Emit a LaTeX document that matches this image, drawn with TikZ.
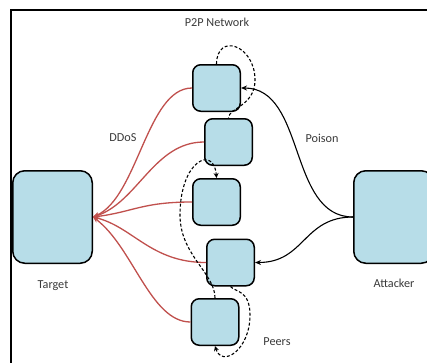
\documentclass[tikz,border=0pt]{standalone}
\usepackage{fontspec}
\setmainfont{Carlito}
\usetikzlibrary{arrows.meta}
\definecolor{boxfill}{HTML}{B7DDE8}
\definecolor{ddosred}{HTML}{C0504D}
\definecolor{labelgray}{HTML}{3A3A3A}
\begin{document}
\begin{tikzpicture}[x=1pt,y=-1pt,
  peer/.style={draw=black, fill=boxfill, line width=1.5pt, rounded corners=8pt,
    minimum width=47.5pt, minimum height=46.5pt, inner sep=0pt},
  host/.style={draw=black, fill=boxfill, line width=1.5pt, rounded corners=12pt,
    minimum width=79.5pt, minimum height=92.5pt, inner sep=0pt},
  lbl/.style={font=\fontsize{12.2}{14}\selectfont, text=labelgray, inner sep=0pt},
  ddos/.style={draw=ddosred, line width=1.3pt, -{Stealth[length=6pt,width=5pt]}},
  poison/.style={draw=black, line width=1.1pt, -{Stealth[length=6pt,width=5pt]}},
  gossip/.style={draw=black, line width=1.1pt, dash pattern=on 3pt off 2pt},
  gossiptip/.style={gossip, -{Stealth[length=5pt,width=5pt]}}]

\path[use as bounding box, clip] (0,0) rectangle (427,362);

% outer frame (runs past the right and bottom edges)
\draw[line width=2pt] (11,400) -- (11,10) -- (460,10);

% hosts
\node[host] (t) at (52.5,217) {};
\node[host] (a) at (393.5,217) {};

% peers of the P2P network
\node[peer] (p1) at (216.5,88) {};
\node[peer] (p2) at (228.5,142) {};
\node[peer] (p3) at (216.5,202) {};
\node[peer] (p4) at (230.5,262.5) {};
\node[peer] (p5) at (215,322) {};

% DDoS traffic from every peer to the target
\draw[ddos] (p1.west) .. controls +(-45,0) and +(45,-20) .. (t.east);
\draw[ddos] (p2.west) .. controls +(-50,0) and +(45,-15) .. (t.east);
\draw[ddos] (p3.west) .. controls +(-50,0) and +(40,-5) .. (t.east);
\draw[ddos] (p4.west) .. controls +(-55,0) and +(40,10) .. (t.east);
\draw[ddos] (p5.west) .. controls +(-40,0) and +(40,30) .. (t.east);

% poisoning by the attacker
\draw[poison] (a.west) .. controls +(-65,0) and +(65,0) .. (p1.east);
\draw[poison] (a.west) .. controls +(-50,0) and +(50,0) .. (p4.east);

% peer-list exchange between peers
\coordinate (r1) at (255,80);
\coordinate (l3) at (180,215);
\coordinate (r4) at (250,315);
\draw[gossip] (p1.north) .. controls (217,32) and (255,45) .. (r1)
  .. controls (255,106) and (228.5,108) .. (p2.north);
\draw[gossiptip] (p5.north) .. controls +(0,-25) and +(0,40) .. (l3)
  .. controls +(0,-55) and (214,145) .. (p3.north);
\draw[gossiptip] (p4.south) .. controls (235,292) and (250,290) .. (r4)
  .. controls +(0,35) and (222,368) .. (p5.south);

% labels
\node[lbl] (lnet) at (217,22) {P2P Network};
\node[lbl] (lddos) at (123,138) {DDoS};
\node[lbl] (lpoison) at (322,138) {Poison};
\node[lbl] (ltarget) at (53,286) {Target};
\node[lbl] (lattacker) at (394,283) {Attacker};
\node[lbl] (lpeers) at (277,342) {Peers};
\end{tikzpicture}
\end{document}
